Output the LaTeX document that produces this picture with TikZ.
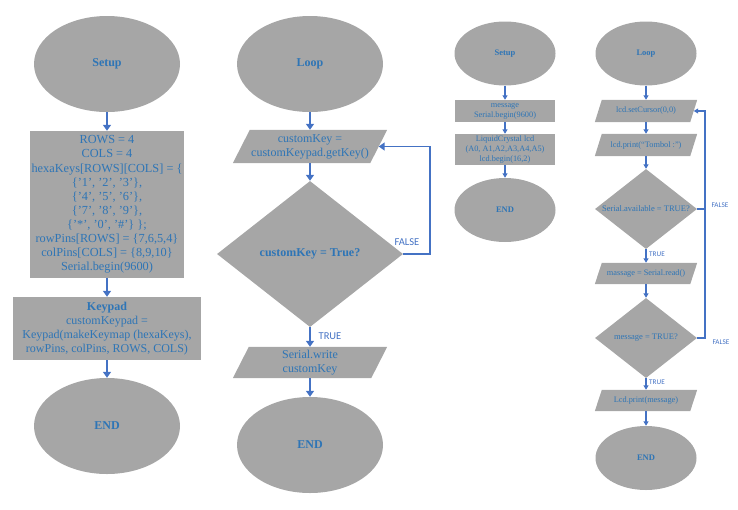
\documentclass[tikz,border=0pt]{standalone}
\usepackage{fontspec}
\setmainfont{Liberation Serif}
\newfontfamily\labfont{Carlito}
\usetikzlibrary{shapes.geometric,arrows.meta,backgrounds}
\definecolor{shapegray}{HTML}{A6A6A6}
\definecolor{txtblue}{HTML}{2E75B6}
\definecolor{arrblue}{HTML}{4472C4}
\begin{document}
\begin{tikzpicture}[x=1pt,y=-1pt,
  every node/.style={text=txtblue, inner sep=0pt, align=center},
  bigterm/.style={ellipse, fill=shapegray, minimum width=146pt, minimum height=96pt, font=\bfseries\fontsize{12}{14}\selectfont},
  smallterm/.style={ellipse, fill=shapegray, minimum width=101pt, minimum height=64pt, font=\bfseries\fontsize{8.5}{10}\selectfont},
  bigbox/.style={rectangle, fill=shapegray, font=\fontsize{12}{14}\selectfont},
  smallbox/.style={rectangle, fill=shapegray, minimum width=100pt, font=\fontsize{8.3}{10}\selectfont},
  bigpara/.style={rectangle, minimum width=154pt, font=\fontsize{12}{14}\selectfont},
  smallpara/.style={rectangle, minimum width=102pt, minimum height=22pt, font=\fontsize{8.3}{10}\selectfont},
  bigdec/.style={diamond, fill=shapegray, minimum width=186pt, minimum height=146pt},
  smalldec/.style={diamond, fill=shapegray, minimum width=102pt, minimum height=80pt},
  bigarrow/.style={draw=arrblue, line width=1.8pt, -{Triangle[width=8pt,length=6pt]}},
  smallarrow/.style={draw=arrblue, line width=1.1pt, -{Triangle[width=5pt,length=4.5pt]}},
  bigline/.style={draw=arrblue, line width=1.8pt},
  smallline/.style={draw=arrblue, line width=1.1pt},
  biglab/.style={text=arrblue, font=\labfont\fontsize{10.5}{12}\selectfont},
  smalllab/.style={text=arrblue, font=\labfont\fontsize{7.2}{8}\selectfont}
]
\useasboundingbox (0,0) rectangle (738,509);

% ---------- column 1: Setup ----------
\node[bigterm] (s1) at (107,64) {Setup};
\node[bigbox, minimum width=154pt, minimum height=147pt, font=\fontsize{12.3}{14.1}\selectfont] (b1) at (107,204.5)
  {ROWS = 4\\COLS = 4\\hexaKeys[ROWS][COLS] = \{\\\{'1', '2', '3'\},\\\{'4', '5', '6'\},\\\{'7', '8', '9'\},\\\{'*', '0', '\#'\} \};\\rowPins[ROWS] = \{7,6,5,4\}\\colPins[COLS] = \{8,9,10\}\\Serial.begin(9600)};
\node[bigbox, minimum width=188pt, minimum height=63pt] (b2) at (107,328.5)
  {\textbf{Keypad}\\customKeypad =\\Keypad(makeKeymap (hexaKeys),\\rowPins, colPins, ROWS, COLS)};
\node[bigterm] (e1) at (107,426) {END};
\draw[bigarrow] (s1.south) -- (b1.north);
\draw[bigarrow] (b1.south) -- (b2.north);
\draw[bigarrow] (b2.south) -- (e1.north);

% ---------- column 2: Loop ----------
\node[bigterm] (l2) at (310,64) {Loop};
\node[bigpara, minimum height=33pt] (p1) at (310,146.5) {customKey =\\customKeypad.getKey()};
\node[bigdec, label={[font=\bfseries\fontsize{12}{14}\selectfont]center:customKey = True?}] (d2) at (310,254) {};
\node[bigpara, minimum height=31pt] (p2) at (310,362.5) {Serial.write\\customKey};
\node[bigterm] (e2) at (310,445) {END};
\coordinate (fx2) at (430,0);
\draw[bigarrow] (l2.south) -- (p1.north);
\draw[bigarrow] (p1.south) -- (d2.north);
\draw[bigarrow] (d2.south) -- (p2.north);
\draw[bigarrow] (p2.south) -- (e2.north);
\draw[bigarrow] (d2.east) -- (d2.east -| fx2) |- ([xshift=-8.5pt]p1.east);
\node[biglab] (f2) at (407,242) {FALSE};
\node[biglab] (t2) at (330,336) {TRUE};

% ---------- column 3: small Setup ----------
\node[smallterm] (s3) at (505,53.5) {Setup};
\node[smallbox, minimum height=22pt] (m3) at (505,111) {message\\Serial.begin(9600)};
\node[smallbox, minimum height=31pt] (c3) at (505,149.5) {LiquidCrystal lcd\\(A0, A1,A2,A3,A4,A5)\\lcd.begin(16,2)};
\node[smallterm] (e3) at (505,210) {END};
\draw[smallarrow] (s3.south) -- (m3.north);
\draw[smallarrow] (m3.south) -- (c3.north);
\draw[smallarrow] (c3.south) -- (e3.north);

% ---------- column 4: small Loop ----------
\node[smallterm] (l4) at (646,53.5) {Loop};
\node[smallpara] (q1) at (646,111) {lcd.setCursor(0,0)};
\node[smallpara] (q2) at (646,145) {lcd.print(``Tombol :'')};
\node[smalldec, label={[font=\fontsize{8.5}{10}\selectfont]center:Serial.available = TRUE?}] (d4a) at (646,209) {};
\node[smallpara, minimum height=21pt] (q3) at (646,273.5) {massage = Serial.read()};
\node[smalldec, label={[font=\fontsize{8.5}{10}\selectfont]center:message = TRUE?}] (d4b) at (646,338) {};
\node[smallpara, minimum height=21pt] (q4) at (646,400.5) {Lcd.print(message)};
\node[smallterm] (e4) at (646,458) {END};
\coordinate (fx4) at (705,0);
\draw[smallarrow] (l4.south) -- (q1.north);
\draw[smallarrow] (q1.south) -- (q2.north);
\draw[smallarrow] (q2.south) -- (d4a.north);
\draw[smallarrow] (d4a.south) -- (q3.north);
\draw[smallarrow] (q3.south) -- (d4b.north);
\draw[smallarrow] (d4b.south) -- (q4.north);
\draw[smallarrow] (q4.south) -- (e4.north);
\draw[smallline] (d4a.east) -- (d4a.east -| fx4);
\draw[smallarrow] (d4b.east) -- (d4b.east -| fx4) |- ([xshift=-3.5pt]q1.east);
\node[smalllab] (f4a) at (720,205) {FALSE};
\node[smalllab] (f4b) at (721,342) {FALSE};
\node[smalllab] (t4a) at (657,254) {TRUE};
\node[smalllab] (t4b) at (657,382) {TRUE};

% ---------- parallelogram bodies ----------
\begin{scope}[on background layer]
  \foreach \n/\s in {p1/17,p2/16,q1/7,q2/7,q3/7,q4/7}
    \fill[shapegray] ([xshift=\s pt]\n.north west) -- (\n.north east) -- ([xshift=-\s pt]\n.south east) -- (\n.south west) -- cycle;
\end{scope}
\end{tikzpicture}
\end{document}
